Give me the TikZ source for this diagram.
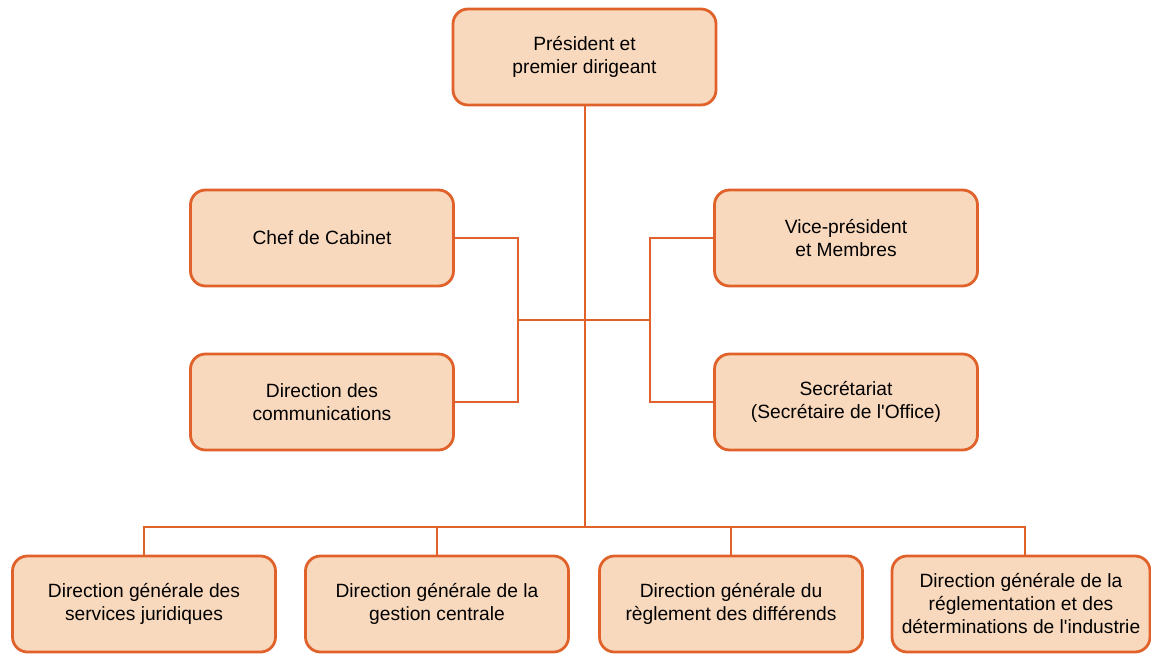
\documentclass[tikz,border=0pt]{standalone}
\usepackage{fontspec}
\setmainfont{Liberation Sans}[Ligatures=TeXOff]
\definecolor{boxfill}{HTML}{F9D9BD}
\definecolor{boxline}{HTML}{E0622A}
\begin{document}
\begin{tikzpicture}[x=1pt,y=-1pt,
  orgbox/.style={draw=boxline, fill=boxfill, line width=2.8pt, rounded corners=15pt,
    minimum width=263pt, minimum height=96pt, align=center, inner sep=2pt,
    font=\fontsize{19.2}{23}\selectfont},
  link/.style={draw=boxline, line width=2pt}]
\useasboundingbox (0,0) rectangle (1151,654);
\node[orgbox] (pres) at (584.5,57) {Président et\\premier dirigeant};
\node[orgbox] (chef) at (322,238) {Chef de Cabinet};
\node[orgbox] (comm) at (322,402) {Direction des\\communications};
\node[orgbox] (vice) at (846,238) {Vice-président\\et Membres};
\node[orgbox] (secr) at (846,402) {Secrétariat\\(Secrétaire de l'Office)};
\node[orgbox] (jur) at (144,604) {Direction générale des\\services juridiques};
\node[orgbox] (ges) at (437,604) {Direction générale de la\\gestion centrale};
\node[orgbox] (reg) at (731,604) {Direction générale du\\règlement des différends};
\node[orgbox, minimum width=258pt] (ind) at (1021,604) {Direction générale de la\\réglementation et des\\déterminations de l'industrie};
\coordinate (hub) at (584.5,527);
\coordinate (lb) at (518,320);
\coordinate (rb) at (650,320);
\draw[link] (pres.south) -- (hub);
\draw[link] (chef.east) -| (lb) |- (comm.east);
\draw[link] (vice.west) -| (rb) |- (secr.west);
\draw[link] (lb) -- (rb);
\draw[link] (jur.north) -- (144,527) -- (1025,527) -- (1025,555);
\draw[link] (ges.north) -- (437,527);
\draw[link] (reg.north) -- (731,527);
\end{tikzpicture}
\end{document}
